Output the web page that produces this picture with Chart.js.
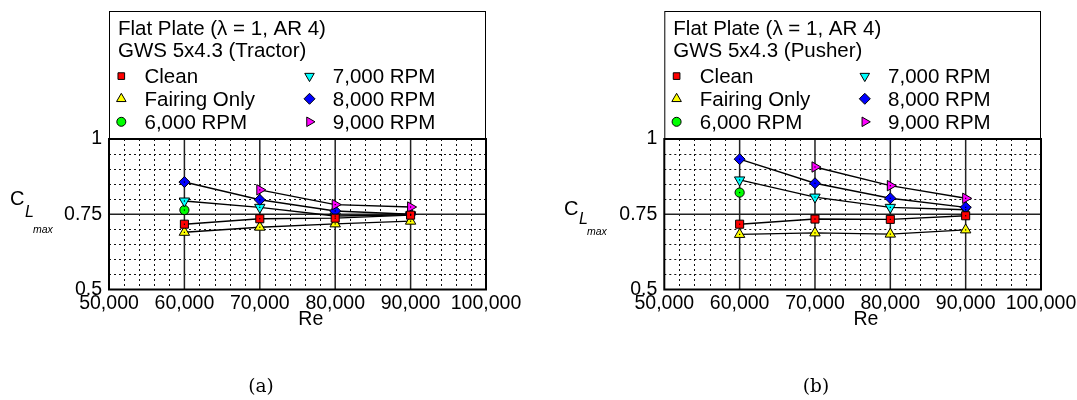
<!DOCTYPE html>
<html>
<head>
<meta charset="utf-8">
<title>CLmax vs Re</title>
<script src="https://cdn.jsdelivr.net/npm/chart.js@4.4.1/dist/chart.umd.min.js"></script>
<style>
  body { margin: 0; background: #fff; }
  #wrap { position: relative; width: 1077px; height: 400px; overflow: hidden; }
  .panel { position: absolute; top: 0; }
  .cap { position: absolute; top: 375px; line-height: 22px; font-family: 'DejaVu Serif', 'Liberation Serif', serif; font-size: 18.5px; transform: translateX(-50%); }
</style>
</head>
<body>
<div id="wrap">
  <canvas id="chartA" class="panel" style="left:0" width="538" height="400"></canvas>
  <canvas id="chartB" class="panel" style="left:538px" width="539" height="400"></canvas>
  <div class="cap" style="left:261px">(a)</div>
  <div class="cap" style="left:816px">(b)</div>
</div>
<script>
// Reynolds numbers where the wing was tested
const reValues = [60000, 70000, 80000, 90000];
const seriesNames = ['Clean', 'Fairing Only', '6,000 RPM', '7,000 RPM', '8,000 RPM', '9,000 RPM'];

// (a) GWS 5x4.3 tractor
const tractorClean   = [0.717, 0.735, 0.737, 0.747];
const tractorFairing = [0.690, 0.707, 0.718, 0.727];
const tractor6000    = [0.764, null, null, null];
const tractor7000    = [0.794, 0.773, 0.744, 0.748];
const tractor8000    = [0.857, 0.798, 0.761, 0.750];
const tractor9000    = [null, 0.831, 0.782, 0.774];

// (b) GWS 5x4.3 pusher
const pusherClean   = [0.717, 0.734, 0.733, 0.745];
const pusherFairing = [0.683, 0.688, 0.684, 0.698];
const pusher6000    = [0.822, null, null, null];
const pusher7000    = [0.864, 0.807, 0.773, 0.765];
const pusher8000    = [0.933, 0.853, 0.803, 0.773];
const pusher9000    = [null, 0.907, 0.845, 0.803];

const seriesColors = ['#ff0000', '#ffff00', '#00ff00', '#00ffff', '#0000ff', '#ff00ff'];
const markerStyles = ['rect', 'triangle', 'circle', 'triangle', 'rectRot', 'triangle'];
const markerRotations = [0, 0, 0, 180, 0, 90];
const markerRadii = [5.7, 6, 4.6, 6, 5.5, 6];
const legendRadii = [4.7, 5.5, 4.5, 5.5, 5.5, 5.5];
const drawOrder = [0, 1, 5, 4, 3, 2];

Chart.defaults.font.family = "'Liberation Sans', Arial, sans-serif";
Chart.defaults.color = '#000';

const FONT = "'Liberation Sans', Arial, sans-serif";

const gridPlugin = {
    id: 'gridFrame',
    beforeDatasetsDraw(chart) {
        const { ctx, chartArea: a, scales: { x, y } } = chart;
        ctx.save();
        // minor dotted grid
        ctx.strokeStyle = '#111';
        ctx.lineWidth = 1;
        ctx.setLineDash([2, 3]);
        for (let v = 52000; v < 100000; v += 2000) {
            if (v % 10000 === 0) continue;
            const px = Math.round(x.getPixelForValue(v)) + 0.5;
            ctx.beginPath(); ctx.moveTo(px, a.top); ctx.lineTo(px, a.bottom); ctx.stroke();
        }
        for (let k = 1; k < 10; k++) {
            if (k === 5) continue;
            const py = Math.round(y.getPixelForValue(0.5 + k * 0.05)) + 0.5;
            ctx.beginPath(); ctx.moveTo(a.left, py); ctx.lineTo(a.right, py); ctx.stroke();
        }
        // major solid grid
        ctx.setLineDash([]);
        ctx.strokeStyle = '#222';
        ctx.lineWidth = 1.5;
        for (let v = 60000; v < 100000; v += 10000) {
            const px = x.getPixelForValue(v);
            ctx.beginPath(); ctx.moveTo(px, a.top); ctx.lineTo(px, a.bottom); ctx.stroke();
        }
        const p75 = y.getPixelForValue(0.75);
        ctx.beginPath(); ctx.moveTo(a.left, p75); ctx.lineTo(a.right, p75); ctx.stroke();
        // frame
        ctx.strokeStyle = '#000';
        ctx.lineWidth = 2;
        ctx.strokeRect(a.left, a.top, a.width, a.height);
        ctx.restore();
    },
    afterDatasetsDraw(chart) {
        // tiny dot in the middle of each marker
        const ctx = chart.ctx;
        ctx.save();
        ctx.fillStyle = '#000';
        chart.getSortedVisibleDatasetMetas().forEach(meta => {
            meta.data.forEach(pt => {
                if (pt.skip) return;
                ctx.fillRect(pt.x - 0.6, pt.y - 0.6, 1.2, 1.2);
            });
        });
        ctx.restore();
    },
    afterDraw(chart, args, opts) {
        const { ctx, chartArea: a } = chart;
        ctx.save();
        // legend box
        ctx.strokeStyle = '#000';
        ctx.lineWidth = 1;
        ctx.strokeRect(a.left + 0.5, 11.5, a.width - 1, a.top - 11.5);
        ctx.fillStyle = '#000';
        ctx.textBaseline = 'alphabetic';
        ctx.textAlign = 'left';
        ctx.font = '20.5px ' + FONT;
        ctx.fillText(opts.title[0], a.left + 9, 35);
        ctx.fillText(opts.title[1], a.left + 9, 56.7);
        const rows = [83.3, 106, 129];
        seriesNames.forEach((name, i) => {
            const col = Math.floor(i / 3), row = i % 3;
            const mx = a.left + (col ? 200.5 : 12.3);
            const tx = a.left + (col ? 223.8 : 35.5);
            ctx.fillStyle = seriesColors[i];
            ctx.strokeStyle = '#000';
            ctx.lineWidth = 1;
            Chart.helpers.drawPoint(ctx, {
                pointStyle: markerStyles[i], radius: legendRadii[i],
                rotation: markerRotations[i], borderWidth: 1
            }, mx, rows[row] - 7.2);
            ctx.fillStyle = '#000';
            ctx.fillText(name, tx, rows[row]);
        });
        // y-axis title C_L_max
        const c = opts.cPos;
        ctx.font = '20px ' + FONT;
        ctx.fillText('C', c[0], c[1]);
        ctx.font = 'italic 16px ' + FONT;
        ctx.fillText('L', c[0] + 15, c[1] + c[2]);
        ctx.font = 'italic 10.5px ' + FONT;
        ctx.fillText('max', c[0] + 23, c[1] + c[3]);
        // x-axis title
        ctx.font = '19.5px ' + FONT;
        ctx.textAlign = 'center';
        ctx.fillText('Re', (a.left + a.right) / 2 + 13.3, 325);
        ctx.restore();
    }
};

function buildPanel(canvasId, seriesValues, title, cPos, padLeft, padRight) {
    const datasets = seriesNames.map((name, i) => ({
        label: name,
        data: reValues.map((re, j) => ({ x: re, y: seriesValues[i][j] })),
        order: drawOrder[i],
        borderColor: '#000',
        borderWidth: 1.4,
        backgroundColor: seriesColors[i],
        pointStyle: markerStyles[i],
        pointRotation: markerRotations[i],
        pointRadius: markerRadii[i],
        pointBorderWidth: 1,
        pointBorderColor: '#000',
        pointBackgroundColor: seriesColors[i],
        tension: 0,
        fill: false
    }));
    return new Chart(document.getElementById(canvasId), {
        type: 'line',
        plugins: [gridPlugin],
        data: { datasets: datasets },
        options: {
            responsive: false,
            animation: false,
            devicePixelRatio: 1,
            layout: { padding: { left: padLeft, right: padRight, top: 139, bottom: 70.5 } },
            plugins: {
                legend: { display: false },
                tooltip: { enabled: false },
                gridFrame: { title: title, cPos: cPos }
            },
            scales: {
                x: {
                    type: 'linear',
                    min: 50000,
                    max: 100000,
                    grid: { display: false, drawTicks: false },
                    border: { display: false },
                    ticks: {
                        stepSize: 10000,
                        autoSkip: false,
                        maxRotation: 0,
                        padding: 2,
                        color: '#000',
                        font: { size: 19.5 },
                        callback: v => v.toLocaleString('en-US')
                    },
                    afterFit: s => { s.height = 40; s.paddingLeft = 0; s.paddingRight = 0; }
                },
                y: {
                    type: 'linear',
                    min: 0.5,
                    max: 1,
                    grid: { display: false, drawTicks: false },
                    border: { display: false },
                    ticks: {
                        stepSize: 0.25,
                        padding: 7,
                        color: '#000',
                        font: { size: 19.5 },
                        callback: v => String(v)
                    },
                    afterFit: s => { s.width = 50; s.paddingTop = 0; s.paddingBottom = 0; }
                }
            }
        }
    });
}

buildPanel('chartA',
    [tractorClean, tractorFairing, tractor6000, tractor7000, tractor8000, tractor9000],
    ['Flat Plate (\u03bb = 1, AR 4)', 'GWS 5x4.3 (Tractor)'],
    [10, 205, 12, 28], 59, 52);

buildPanel('chartB',
    [pusherClean, pusherFairing, pusher6000, pusher7000, pusher8000, pusher9000],
    ['Flat Plate (\u03bb = 1, AR 4)', 'GWS 5x4.3 (Pusher)'],
    [26, 215, 9, 20], 76.3, 36);
</script>
</body>
</html>
